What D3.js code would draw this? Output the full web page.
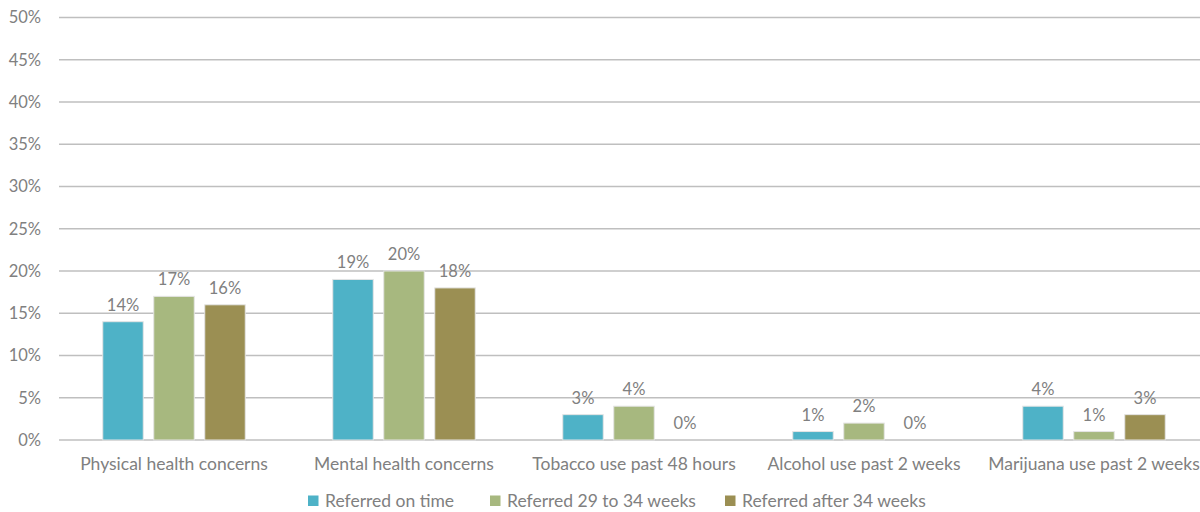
<!DOCTYPE html>
<html>
<head>
<meta charset="utf-8">
<script src="https://cdn.jsdelivr.net/npm/d3@7"></script>
<style>
  html, body { margin: 0; padding: 0; background: #ffffff; }
  svg text { font-family: Lato, "Open Sans", sans-serif; fill: #808080; }
</style>
</head>
<body>
<svg id="chart" width="1200" height="512"></svg>
<script>
// Share of referrals reporting each concern, by referral timing
const categories = [
  "Physical health concerns",
  "Mental health concerns",
  "Tobacco use past 48 hours",
  "Alcohol use past 2 weeks",
  "Marijuana use past 2 weeks"
];
const seriesNames = ["Referred on time", "Referred 29 to 34 weeks", "Referred after 34 weeks"];
const onTime   = [14, 19, 3, 1, 4];
const weeks2934 = [17, 20, 4, 2, 1];
const after34  = [16, 18, 0, 0, 3];
const seriesColors = ["#4eb2c7", "#a7b87f", "#9b8f53"];
const yTicks = [0, 5, 10, 15, 20, 25, 30, 35, 40, 45, 50];

const seriesValues = [onTime, weeks2934, after34];

const svg = d3.select("#chart");
const plot = { left: 59, right: 1209, top: 17.5, bottom: 440 };

const x0 = d3.scaleBand().domain(categories).range([plot.left, plot.right]).padding(0);
const x1 = d3.scaleBand().domain(seriesNames).range([0, x0.bandwidth()])
  .paddingInner(0.206).paddingOuter(0.858);
const y = d3.scaleLinear().domain([0, 50]).range([plot.bottom, plot.top]);

// horizontal gridlines
svg.append("g")
  .selectAll("line")
  .data(yTicks)
  .join("line")
  .attr("x1", plot.left)
  .attr("x2", 1200)
  .attr("y1", d => y(d))
  .attr("y2", d => y(d))
  .attr("stroke", "#bfbfbf")
  .attr("stroke-width", 1.5);

// y-axis labels
svg.append("g")
  .selectAll("text")
  .data(yTicks)
  .join("text")
  .attr("x", 41)
  .attr("y", d => y(d))
  .attr("dy", "0.36em")
  .attr("text-anchor", "end")
  .style("font-size", "16.5px")
  .text(d => d + "%");

// bars
const groups = svg.append("g")
  .selectAll("g")
  .data(categories)
  .join("g")
  .attr("transform", c => `translate(${x0(c)},0)`);

const cells = groups.selectAll("g.cell")
  .data((c, ci) => seriesNames.map((s, si) => ({ s, si, v: seriesValues[si][ci] })))
  .join("g")
  .attr("class", "cell");

cells.append("rect")
  .attr("x", d => x1(d.s))
  .attr("width", x1.bandwidth())
  .attr("y", d => y(d.v))
  .attr("height", d => y(0) - y(d.v))
  .attr("fill", d => seriesColors[d.si])
  .attr("stroke", d => d.v > 0 ? "#e4e4e4" : "none")
  .attr("stroke-width", 1);

// value labels
cells.append("text")
  .attr("x", d => x1(d.s) + x1.bandwidth() / 2)
  .attr("y", d => y(d.v) - 11)
  .attr("text-anchor", "middle")
  .style("font-size", "16.5px")
  .text(d => d.v + "%");

// category labels
svg.append("g")
  .selectAll("text")
  .data(categories)
  .join("text")
  .attr("x", c => x0(c) + x0.bandwidth() / 2)
  .attr("y", 470)
  .attr("text-anchor", "middle")
  .style("font-size", "17.5px")
  .text(c => c);

// legend: swatch positions along the bottom row
const legendX = [308, 490, 725];
const legend = svg.append("g")
  .selectAll("g")
  .data(seriesNames)
  .join("g")
  .attr("transform", (d, i) => `translate(${legendX[i]},0)`);

legend.append("rect")
  .attr("x", 0).attr("y", 495.5)
  .attr("width", 10.5).attr("height", 10.5)
  .attr("fill", (d, i) => seriesColors[i]);

legend.append("text")
  .attr("x", 17)
  .attr("y", 506.5)
  .style("font-size", "17.5px")
  .text(d => d);
</script>
</body>
</html>
